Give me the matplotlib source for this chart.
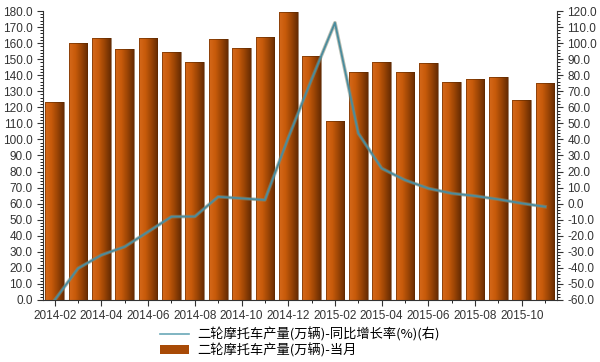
import matplotlib.pyplot as plt
import numpy as np
from matplotlib.lines import Line2D
from matplotlib.patches import Patch
from matplotlib.colors import LinearSegmentedColormap

plt.rcParams['font.family'] = ['Liberation Sans', 'Noto Sans CJK SC', 'DejaVu Sans']

meses = ['2014-02', '2014-03', '2014-04', '2014-05', '2014-06', '2014-07', '2014-08',
         '2014-09', '2014-10', '2014-11', '2014-12', '2015-01', '2015-02', '2015-03',
         '2015-04', '2015-05', '2015-06', '2015-07', '2015-08', '2015-09', '2015-10',
         '2015-11']

producao = [123.5, 160.3, 163.4, 156.3, 163.0, 154.3, 148.4, 162.3, 156.7, 164.0, 179.6,
            152.2, 111.5, 141.8, 148.0, 141.8, 147.4, 135.8, 137.9, 139.1, 124.8, 135.3]

crescimento = [-60.0, -40.3, -32.0, -26.8, -17.5, -8.1, -8.0, 4.3, 3.3, 2.3, 41.0,
               77.4, 112.7, 43.8, 22.0, 14.7, 9.5, 6.4, 4.8, 2.7, 0.2, -1.9]

nome_linha = '二轮摩托车产量(万辆)-同比增长率(%)(右)'
nome_barra = '二轮摩托车产量(万辆)-当月'

fig = plt.figure(figsize=(6, 3.62), dpi=100)
ax = fig.add_axes([0.0717, 0.1713, 0.8563, 0.7983])
ax2 = ax.twinx()

x = np.arange(len(meses))
largura = 0.8

# barras com gradiente (laranja -> marrom)
gradiente = np.linspace(0, 1, 64).reshape(1, -1)
cmap = LinearSegmentedColormap.from_list('barra', ['#d6681a', '#c85b0a', '#9a4405', '#662b02'])
barras = ax.bar(x, producao, largura, color='none', edgecolor='#5a2800', linewidth=0.4, zorder=2)
for b in barras:
    im = ax.imshow(gradiente, cmap=cmap, aspect='auto', zorder=1,
                   extent=[b.get_x(), b.get_x() + b.get_width(), 0, b.get_height()])
    im.set_clip_path(b)

ax.set_xlim(-0.5, len(meses) - 0.5)
ax.set_ylim(0, 180)
ax.set_yticks(np.arange(0, 181, 10))
ax.set_yticks(np.arange(0, 181, 2), minor=True)
ax.set_yticklabels(['%.1f' % v for v in np.arange(0, 181, 10)])
ax.set_xticks(x[::2])
ax.set_xticklabels(meses[::2])
ax.set_xticks(x, minor=True)

# linha (eixo da direita)
ax2.plot(x, crescimento, color='#808a74', linewidth=2.6, alpha=0.55, zorder=3)
ax2.plot(x, crescimento, color='#4a8c9e', linewidth=1.3, zorder=4)
ax2.set_ylim(-60, 120)
ax2.set_yticks(np.arange(-60, 121, 10))
ax2.set_yticks(np.arange(-60, 121, 2), minor=True)
ax2.set_yticklabels(['%.1f' % v for v in np.arange(-60, 121, 10)])

for a in (ax, ax2):
    a.spines['top'].set_visible(False)
    a.tick_params(labelsize=8.5, colors='#333333', length=4, width=0.8)
    a.tick_params(which='minor', length=2, width=0.6)
ax.spines['right'].set_visible(False)
ax2.spines['left'].set_visible(False)
ax2.spines['bottom'].set_visible(False)
ax.spines['left'].set_color('#333333')
ax.spines['bottom'].set_color('#333333')
ax2.spines['right'].set_color('#333333')
ax.tick_params(axis='x', pad=3)

handles = [Line2D([0], [0], color='#6aa8b8', linewidth=1.2),
           Patch(facecolor='#a84a06', edgecolor='none')]
fig.legend(handles, [nome_linha, nome_barra], loc='center', bbox_to_anchor=(0.5, 0.055),
           frameon=False, handlelength=2.2, handletextpad=0.6, labelspacing=0.1,
           prop={'family': ['Noto Sans CJK SC', 'DejaVu Sans'], 'size': 9.5})

fig.savefig('out.png', dpi=100)
